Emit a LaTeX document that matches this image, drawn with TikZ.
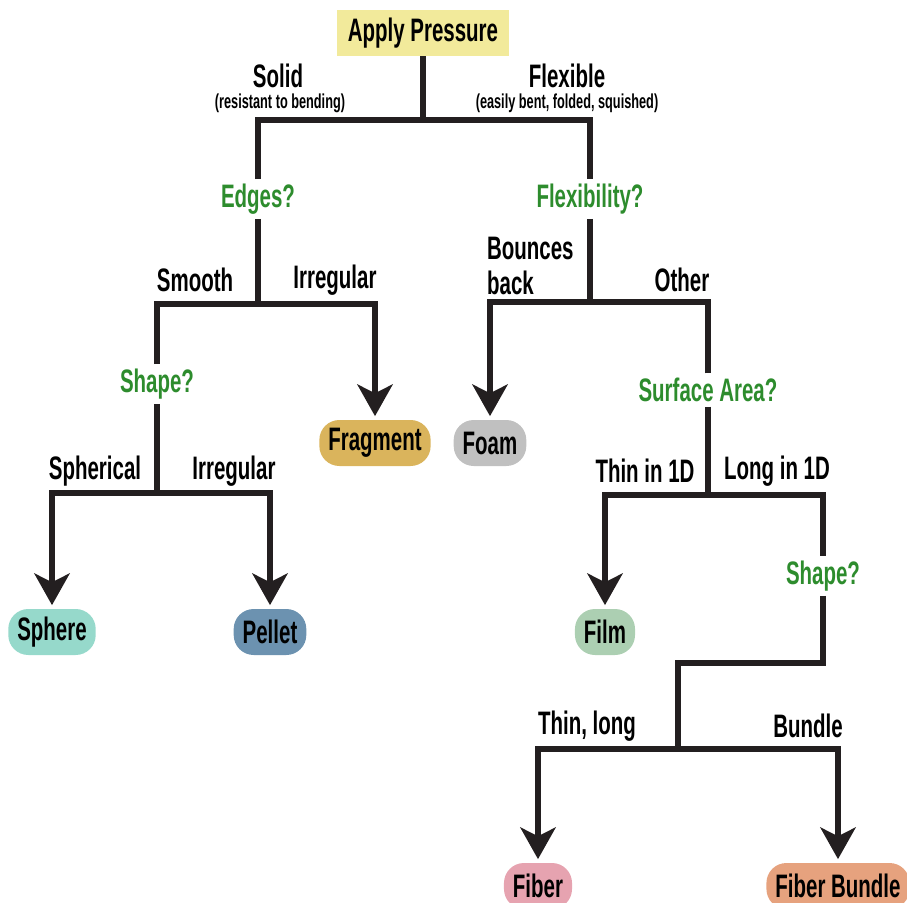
\documentclass[tikz,border=0pt]{standalone}
\usepackage{fontspec}
\setmainfont{Liberation Sans}[FakeStretch=0.63]
\definecolor{linedark}{RGB}{35,31,32}
\definecolor{askgreen}{RGB}{45,140,45}
\definecolor{rootyellow}{RGB}{242,234,155}
\definecolor{fraggold}{RGB}{218,180,92}
\definecolor{foamgray}{RGB}{192,192,192}
\definecolor{spheremint}{RGB}{150,217,203}
\definecolor{pelletblue}{RGB}{108,146,176}
\definecolor{filmgreen}{RGB}{172,207,178}
\definecolor{fiberpink}{RGB}{230,163,176}
\definecolor{bundleorange}{RGB}{230,162,126}
\usetikzlibrary{arrows.meta,positioning}

\begin{document}
\begin{tikzpicture}[x=0.02cm, y=-0.02cm,
    link/.style={line width=3.4pt, draw=linedark},
    tip/.style={link, -{Stealth[length=18pt, width=20pt, inset=5pt]}, shorten >=2pt},
    lbl/.style={font=\fontsize{18.5}{20.4}\selectfont\bfseries, inner sep=1pt},
    note/.style={font=\fontsize{11.5}{13}\selectfont\bfseries, inner sep=1pt},
    ask/.style={lbl, text=askgreen, inner sep=2.5pt},
    leaf/.style={lbl, rounded corners=0.4cm, minimum height=0.92cm, inner xsep=0.18cm}]
    \useasboundingbox (0,0) rectangle (907,903);

    % Root
    \node[lbl, fill=rootyellow, minimum height=0.92cm, inner xsep=0.22cm] (press) at (423,33) {Apply Pressure};
    \coordinate (split) at (423,120);
    \node[lbl] (solid) at (278,76) {Solid};
    \node[note] (solidnote) at (280,103) {(resistant to bending)};
    \node[lbl] (flexible) at (567,76) {Flexible};
    \node[note] (flexnote) at (567,103) {(easily bent, folded, squished)};

    % Solid side
    \node[ask] (edges) at (258,199) {Edges?};
    \coordinate (edgesplit) at (258,304);
    \node[lbl] (smooth) at (195,280) {Smooth};
    \node[lbl] (irrA) at (335,280) {Irregular};
    \node[ask] (shapeA) at (157,384) {Shape?};
    \node[leaf, fill=fraggold] (fragment) at (375,443) {Fragment};
    \coordinate (shapesplit) at (157,493);
    \node[lbl] (spherical) at (95,471) {Spherical};
    \node[lbl] (irrB) at (234,471) {Irregular};
    \node[leaf, fill=spheremint] (sphere) at (52,632) {Sphere};
    \node[leaf, fill=pelletblue] (pellet) at (270,632) {Pellet};

    % Flexible side
    \node[ask] (flexq) at (590,199) {Flexibility?};
    \coordinate (flexsplit) at (590,302);
    \node[lbl, align=left, anchor=west] (bounce) at (485,266) {Bounces\\back};
    \node[lbl] (other) at (682,280) {Other};
    \node[leaf, fill=foamgray] (foam) at (490,443) {Foam};
    \node[ask] (surf) at (708,390) {Surface Area?};
    \coordinate (surfsplit) at (708,495);
    \node[lbl] (thin) at (645,471) {Thin in 1D};
    \node[lbl] (long) at (777,471) {Long in 1D};
    \node[leaf, fill=filmgreen] (film) at (605,632) {Film};
    \node[ask] (shapeB) at (823,576) {Shape?};
    \coordinate (jog) at (678,663);
    \coordinate (fibersplit) at (678,749);
    \node[lbl] (thinlong) at (587,726) {Thin, long};
    \node[lbl] (bundlelbl) at (808,726) {Bundle};
    \node[leaf, fill=fiberpink] (fiber) at (538,886) {Fiber};
    \node[leaf, fill=bundleorange] (bundle) at (838,886) {Fiber Bundle};

    % Connectors
    \draw[link] (press) -- (split);
    \draw[link] (edges) |- (split) -| (flexq);
    \draw[link] (edges) -- (edgesplit);
    \draw[tip] (shapeA) |- (edgesplit) -| (fragment);
    \draw[link] (shapeA) -- (shapesplit);
    \draw[tip] (shapesplit) -| (sphere);
    \draw[tip] (shapesplit) -| (pellet);
    \draw[link] (flexq) -- (flexsplit);
    \draw[tip] (surf) |- (flexsplit) -| (foam);
    \draw[link] (surf) -- (surfsplit);
    \draw[tip] (surfsplit) -| (film);
    \draw[link] (surfsplit) -| (shapeB);
    \draw[link] (shapeB) |- (jog) -- (fibersplit);
    \draw[tip] (fibersplit) -| (fiber);
    \draw[tip] (fibersplit) -| (bundle);
\end{tikzpicture}
\end{document}
